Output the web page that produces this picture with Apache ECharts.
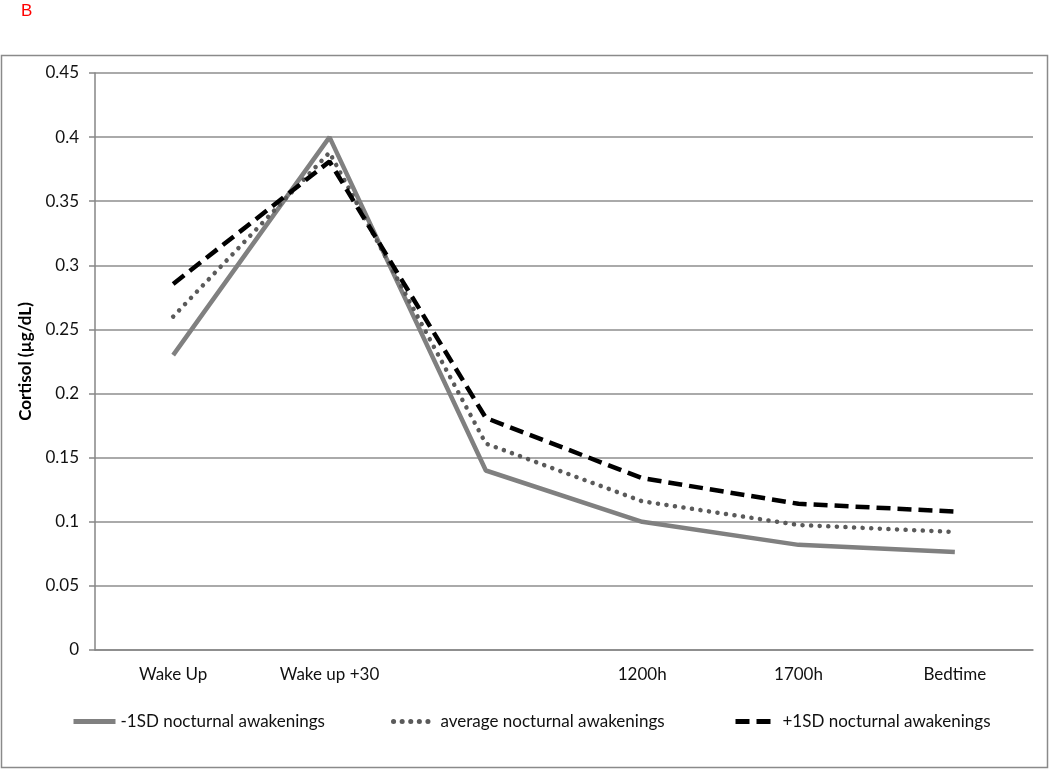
<!DOCTYPE html>
<html>
<head>
<meta charset="utf-8">
<script src="https://cdn.jsdelivr.net/npm/echarts@6/dist/echarts.min.js"></script>
<style>
  html, body { margin: 0; padding: 0; background: #fff; }
  #chart { width: 1050px; height: 770px; }
</style>
</head>
<body>
<div id="chart"></div>
<script>
const categories = ['Wake Up', 'Wake up +30', '', '1200h', '1700h', 'Bedtime']

const lowSD = [0.23, 0.40, 0.14, 0.10, 0.082, 0.0765]
const average = [0.26, 0.388, 0.161, 0.116, 0.0975, 0.092]
const highSD = [0.2855, 0.381, 0.181, 0.134, 0.114, 0.108]

const seriesNames = [
  '-1SD nocturnal awakenings',
  'average nocturnal awakenings',
  '+1SD nocturnal awakenings'
]

const font = 'Lato, "Open Sans", sans-serif'
const chart = echarts.init(document.getElementById('chart'))

const legendBase = {
  top: 708,
  itemWidth: 42,
  itemHeight: 10,
  itemStyle: { opacity: 0 },
  lineStyle: { width: 5 },
  textStyle: { fontFamily: font, fontSize: 17, color: '#111' }
}

const option = {
  animation: false,
  backgroundColor: '#fff',
  graphic: [
    {
      type: 'rect',
      shape: { x: 1.5, y: 55.5, width: 1046, height: 712 },
      style: { fill: 'none', stroke: '#8a8a8a', lineWidth: 1.5 }
    },
    {
      type: 'text',
      left: 21,
      top: 3,
      style: { text: 'B', fill: '#ff0000', font: '17px Arial, sans-serif' }
    }
  ],
  legend: [
    Object.assign({ left: 66, data: [seriesNames[0]] }, legendBase),
    Object.assign({ left: 386, data: [seriesNames[1]] }, legendBase),
    Object.assign({ left: 728, data: [seriesNames[2]] }, legendBase)
  ],
  grid: { left: 95, right: 17, top: 73, bottom: 120 },
  xAxis: {
    type: 'category',
    data: categories,
    boundaryGap: true,
    axisLine: { lineStyle: { color: '#868686', width: 1.5 } },
    axisTick: { show: false },
    axisLabel: { fontFamily: font, fontSize: 17, color: '#111', margin: 16 }
  },
  yAxis: {
    type: 'value',
    min: 0,
    max: 0.45,
    interval: 0.05,
    name: 'Cortisol (µg/dL)',
    nameLocation: 'middle',
    nameGap: 58,
    nameTextStyle: { fontFamily: font, fontSize: 17, fontWeight: 'bold', color: '#000' },
    axisLine: { show: true, lineStyle: { color: '#868686', width: 1.5 } },
    axisTick: { show: true, length: 6, lineStyle: { color: '#868686', width: 1.5 } },
    axisLabel: {
      fontFamily: font,
      fontSize: 17,
      color: '#111',
      margin: 16,
      formatter: v => String(Math.round(v * 100) / 100)
    },
    splitLine: { lineStyle: { color: '#8e8e8e', width: 1.5 } }
  },
  series: [
    {
      name: seriesNames[0],
      type: 'line',
      data: lowSD,
      symbol: 'none',
      lineStyle: { color: '#808080', width: 4.5, type: 'solid' },
      itemStyle: { color: '#808080' }
    },
    {
      name: seriesNames[1],
      type: 'line',
      data: average,
      symbol: 'none',
      lineStyle: { color: '#5a5a5a', width: 4.5, type: [0.1, 8.5], cap: 'round' },
      itemStyle: { color: '#5a5a5a' }
    },
    {
      name: seriesNames[2],
      type: 'line',
      data: highSD,
      symbol: 'none',
      lineStyle: { color: '#000000', width: 4.5, type: [14, 7] },
      itemStyle: { color: '#000000' }
    }
  ]
}

chart.setOption(option)
</script>
</body>
</html>
